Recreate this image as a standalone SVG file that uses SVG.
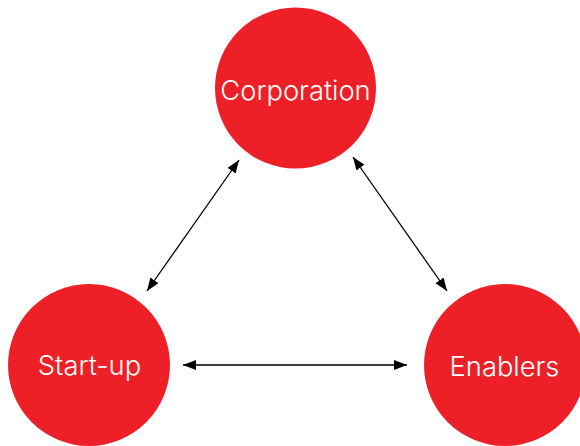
<svg xmlns="http://www.w3.org/2000/svg" width="580" height="446" viewBox="0 0 580 446">
<style>
.node{fill:#ED1F27}
.lbl{font-family:Inter,"Liberation Sans",sans-serif;font-size:27.3px;font-weight:300;fill:#fff;text-anchor:middle}
.conn{stroke:#000;stroke-width:1.3;fill:none;marker-start:url(#ah);marker-end:url(#ah)}
</style>
<defs>
<marker id="ah" markerUnits="userSpaceOnUse" markerWidth="14" markerHeight="11" refX="13" refY="5" orient="auto-start-reverse">
<path d="M0,0 L13,5 L0,10 z" fill="#000"/>
</marker>
</defs>
<rect width="580" height="446" fill="#fff"/>
<g id="corporation"><circle class="node" cx="295.5" cy="88" r="80.5"/><text class="lbl" x="295.5" y="100">Corporation</text></g>
<g id="startup"><circle class="node" cx="89" cy="365" r="81"/><text class="lbl" x="89.5" y="375">Start-up</text></g>
<g id="enablers"><circle class="node" cx="505" cy="365" r="81"/><text class="lbl" x="504.5" y="376">Enablers</text></g>
<g id="connectors">
<line class="conn" x1="239" y1="160" x2="147" y2="291"/>
<line class="conn" x1="353" y1="157" x2="447" y2="291"/>
<line class="conn" x1="183" y1="365" x2="407" y2="365"/>
</g>
</svg>
